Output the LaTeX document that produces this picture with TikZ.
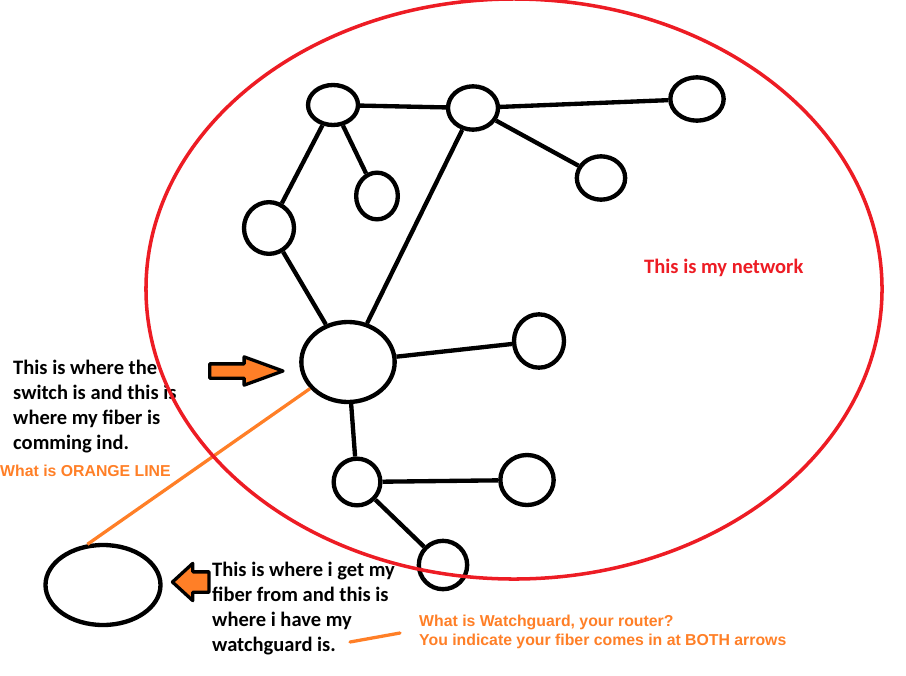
\documentclass[tikz,border=0pt]{standalone}
\usepackage{fontspec}
\setmainfont{Carlito}
\newfontfamily\notefont{Liberation Sans}
\usepackage{tikz}
\usetikzlibrary{positioning, arrows.meta, shapes, calc}
\usepackage{xcolor}
\definecolor{paintred}{RGB}{237,28,36}
\definecolor{paintorange}{RGB}{255,127,39}

\begin{document}
\begin{tikzpicture}[x=0.03cm, y=-0.03cm,
  dev/.style={draw, ellipse, line width=3.7pt, inner sep=0pt},
  link/.style={line width=3.7pt},
  pointer/.style={draw, fill=paintorange, single arrow, line width=2.8pt, line join=round, inner sep=0pt},
  say/.style={font=\fontsize{17.5}{21.3}\selectfont\bfseries, align=left, inner sep=0pt, anchor=north west},
  ask/.style={font=\notefont\fontsize{13.5}{16}\selectfont\bfseries, text=paintorange, align=left, inner sep=0pt, anchor=north west}]
\useasboundingbox (0,0) rectangle (906,675);

% Network
\node[dev, minimum width=1.5cm, minimum height=1.2cm] (n1) at (333,105) {};
\node[dev, minimum width=1.5cm, minimum height=1.3cm] (n2) at (473,108) {};
\node[dev, minimum width=1.6cm, minimum height=1.3cm] (n3) at (697,99) {};
\node[dev, minimum width=1.25cm, minimum height=1.4cm] (n4) at (377,196) {};
\node[dev, minimum width=1.45cm, minimum height=1.3cm] (n5) at (601,178) {};
\node[dev, minimum width=1.5cm, minimum height=1.55cm] (n6) at (269,228) {};
\node[dev, minimum width=2.8cm, minimum height=2.4cm] (sw) at (348,362) {};
\node[dev, minimum width=1.5cm, minimum height=1.6cm] (n7) at (539,341) {};
\node[dev, minimum width=1.4cm, minimum height=1.4cm] (n8) at (357,482) {};
\node[dev, minimum width=1.6cm, minimum height=1.5cm] (n9) at (527,480) {};
\node[dev, minimum width=1.45cm, minimum height=1.45cm] (n10) at (443,565) {};
\draw[link] (n1) -- (n2);
\draw[link] (n2) -- (n3);
\draw[link] (n1) -- (n4);
\draw[link] (n1) -- (n6);
\draw[link] (n2) -- (n5);
\draw[link] (n2) -- (sw);
\draw[link] (n6) -- (sw);
\draw[link] (sw) -- (n7);
\draw[link] (sw) -- (n8);
\draw[link] (n8) -- (n9);
\draw[link] (n8) -- (n10);

% Watchguard
\node[dev, minimum width=3.45cm, minimum height=2.4cm] (wg) at (103,585) {};
\draw[paintorange, line width=2.8pt] (sw.215) -- (wg.111);

% Arrows
\node[pointer, minimum height=2.2cm, minimum width=0.75cm, inner sep=0.165cm,
  single arrow head extend=0.21cm, single arrow tip angle=40, anchor=tail] (toSw) at (208,371) {};
\node[pointer, minimum height=1.1cm, minimum width=1.02cm, inner sep=0.255cm,
  single arrow head extend=0.255cm, single arrow tip angle=85, shape border rotate=180, anchor=tip] (toWg) at (170,582) {};

% Texts
\node[say] (swText) at (13,360) {This is where the\\switch is and this is\\where my fiber is\\comming ind.};
\node[ask] (orangeQ) at (0,465) {What is ORANGE LINE};
\node[say] (wgText) at (212,562) {This is where i get my\\fiber from and this is\\where i have my\\watchguard is.};
\coordinate (markA) at (350,642);
\coordinate (markB) at (400,633);
\draw[paintorange, line width=2.8pt, line cap=round] (markA) -- (markB);
\node[ask] (wgQ) at (419,615) {What is Watchguard, your router?\\You indicate your fiber comes in at BOTH arrows};
\node[say, text=paintred, anchor=west] (netText) at (644,268) {This is my network};

% My network
\draw[paintred, line width=3pt] (514,289) ellipse [x radius=11.04cm, y radius=8.7cm];
\end{tikzpicture}
\end{document}
